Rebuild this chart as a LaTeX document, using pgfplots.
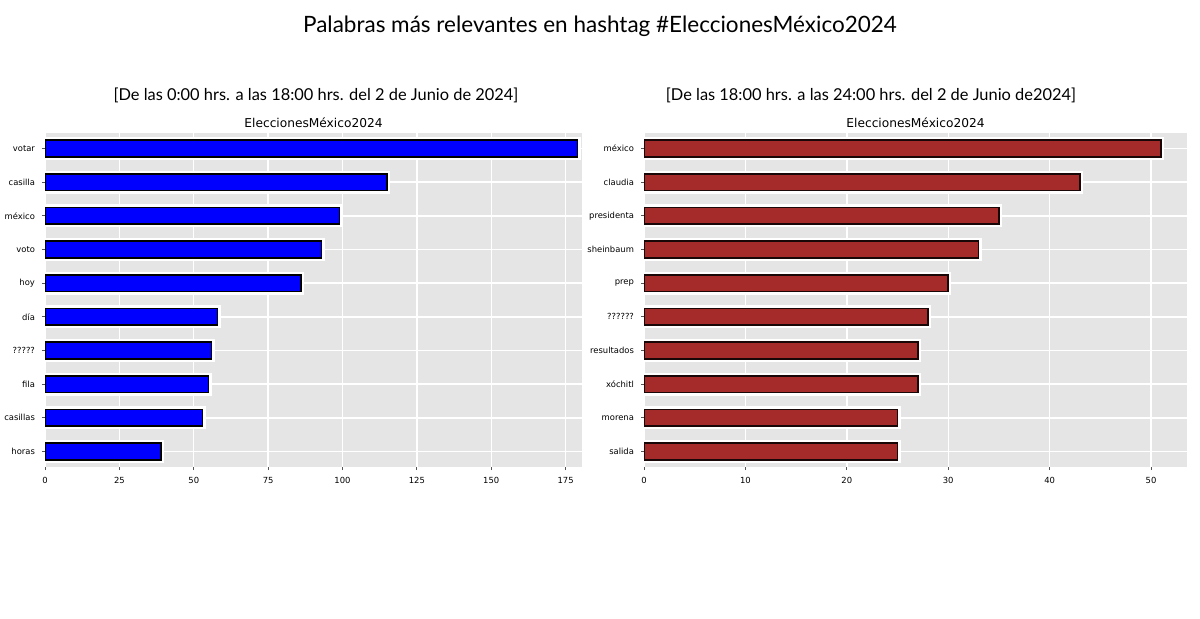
\documentclass[border=0pt]{standalone}
\usepackage{fontspec}
\setmainfont{Lato}
\newfontfamily\dejavu{DejaVu Sans}
\usepackage{pgfplots}
\pgfplotsset{compat=1.18}
\definecolor{ggbg}{HTML}{E5E5E5}
\definecolor{brownbar}{HTML}{A52A2A}
\definecolor{tickgray}{HTML}{555555}
\pgfplotsset{
 panel/.style={
  scale only axis, anchor=north west,
  height=167pt,
  xbar, bar width=0.5,
  y dir=reverse,
  ymin=-0.46, ymax=9.46,
  xmin=0,
  ytick={0,...,9},
  xtick pos=bottom, ytick pos=left,
  axis background/.style={fill=ggbg},
  axis line style={draw=none},
  grid=major, major grid style={white, line width=0.7pt},
  tick align=outside, major tick length=1.5pt,
  tick style={tickgray, line width=0.4pt},
  tick label style={font=\dejavu\fontsize{4.2}{5}\selectfont, text=black},
  /pgf/number format/assume math mode=true,
  title style={font=\dejavu\fontsize{6.1}{7}\selectfont, at={(0.5,1)}, anchor=base, yshift=-3.5pt},
 },
 halo/.style={fill=white, draw=white, line width=3pt, bar shift=0pt},
}
\begin{document}
\begin{tikzpicture}
\path[use as bounding box] (0,0) rectangle (600pt,-309.5pt);
\node[font=\fontsize{11.25}{13}\selectfont] at (300pt,-13pt) {Palabras más relevantes en hashtag \#EleccionesMéxico2024};
\node[font=\fontsize{8.2}{10}\selectfont] at (158pt,-47.5pt) {[De las 0:00 hrs. a las 18:00 hrs. del 2 de Junio de 2024]};
\node[font=\fontsize{8.2}{10}\selectfont] at (435.5pt,-47.5pt) {[De las 18:00 hrs. a las 24:00 hrs. del 2 de Junio de2024]};
\begin{axis}[panel, at={(22.5pt,-66.5pt)}, width=268.5pt,
  xmax=180.5, xtick={0,25,...,175},
  yticklabels={votar,casilla,méxico,voto,hoy,día,?????,fila,casillas,horas},
  title={EleccionesMéxico2024}]
\addplot[halo] coordinates {(179,0) (115,1) (99,2) (93,3) (86,4) (58,5) (56,6) (55,7) (53,8) (39,9)};
\addplot[fill=blue, draw=black, line width=0.8pt, bar shift=0pt] coordinates {(179,0) (115,1) (99,2) (93,3) (86,4) (58,5) (56,6) (55,7) (53,8) (39,9)};
\end{axis}
\begin{axis}[panel, at={(322pt,-66.5pt)}, width=271.5pt,
  xmax=53.55, xtick={0,10,...,50},
  yticklabels={méxico,claudia,presidenta,sheinbaum,prep,??????,resultados,xóchitl,morena,salida},
  title={EleccionesMéxico2024}]
\addplot[halo] coordinates {(51,0) (43,1) (35,2) (33,3) (30,4) (28,5) (27,6) (27,7) (25,8) (25,9)};
\addplot[fill=brownbar, draw=black!85!brownbar, line width=0.8pt, bar shift=0pt] coordinates {(51,0) (43,1) (35,2) (33,3) (30,4) (28,5) (27,6) (27,7) (25,8) (25,9)};
\end{axis}
\end{tikzpicture}
\end{document}
